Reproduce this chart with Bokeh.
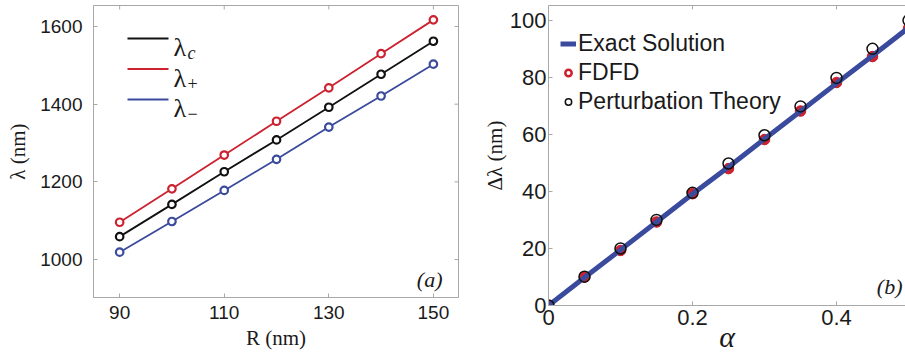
from jinja2 import Template
from bokeh.plotting import figure
from bokeh.models import Range1d, LinearAxis, FixedTicker, Label, Arrow, Legend, LegendItem
from bokeh.embed import file_html
from bokeh.resources import INLINE

# ---------------- data: panel (a) ----------------
R_nm = [90, 100, 110, 120, 130, 140, 150]
lam_c = [1059, 1142, 1226, 1308, 1392, 1477, 1562]
lam_plus = [1096, 1182, 1269, 1356, 1442, 1530, 1617]
lam_minus = [1019, 1098, 1178, 1258, 1341, 1421, 1503]
ticks_R = [90, 110, 130, 150]
ticks_lam = [1000, 1200, 1400, 1600]
subscripts_a = ["c", "+", "\u2212"]

# ---------------- data: panel (b) ----------------
alpha = [0.0, 0.05, 0.10, 0.15, 0.20, 0.25, 0.30, 0.35, 0.40, 0.45, 0.50]
dlam_exact = [0.0, 9.8, 19.5, 29.3, 39.1, 48.6, 58.4, 68.1, 77.9, 87.6, 97.4]
dlam_fdfd = [0.0, 10.0, 19.3, 29.3, 39.2, 48.0, 58.2, 68.2, 78.2, 87.3, 97.2]
dlam_pert = [0.0, 10.1, 20.0, 30.0, 39.5, 49.8, 59.7, 69.8, 79.8, 90.0, 100.0]
ticks_alpha = [0, 0.2, 0.4]
ticks_dlam = [0, 20, 40, 60, 80, 100]
legend_b = ["Exact Solution", "FDFD", "Perturbation Theory"]

GREY = "#a8a8a8"
TXT = "#1a1a1a"
RED = "#cc2230"
BLUE = "#3a4a9c"
BLACK = "#111111"
SANS = "Liberation Sans"
SERIF = "Liberation Serif"
TICK_PX = 4
H = 360


def style_axis(ax, ticks, size, standoff):
    ax.ticker = FixedTicker(ticks=ticks)
    ax.axis_line_color = GREY
    ax.major_tick_line_color = GREY
    ax.major_tick_in = TICK_PX
    ax.major_tick_out = 0
    ax.minor_tick_line_color = None
    ax.major_label_text_font = SANS
    ax.major_label_text_color = TXT
    ax.major_label_standoff = standoff
    ax.major_label_text_font_size = size
    ax.axis_label_text_font = SERIF
    ax.axis_label_text_font_style = "normal"
    ax.axis_label_text_color = TXT


# ================= panel (a) =================
xa0, xa1, ya0, ya1 = 85.0, 154.8, 902.3, 1654.0
FA = (93, 458, 5, 297)  # frame left, right, top, bottom (page px)
p1 = figure(width=470, height=H, x_range=Range1d(xa0, xa1), y_range=Range1d(ya0, ya1),
            output_backend="svg", toolbar_location=None,
            min_border_left=FA[0], min_border_right=470 - FA[1], min_border_top=FA[2],
            min_border_bottom=H - FA[3])
p1.grid.visible = False
p1.outline_line_color = GREY
p1.background_fill_color = "white"


def a_px(px, py):
    x = xa0 + (px - FA[0]) / (FA[1] - FA[0]) * (xa1 - xa0)
    y = ya1 - (py - FA[2]) / (FA[3] - FA[2]) * (ya1 - ya0)
    return x, y


style_axis(p1.xaxis[0], ticks_R, "19px", 8)
style_axis(p1.yaxis[0], ticks_lam, "19px", 11)
p1.xaxis[0].axis_label = "R (nm)"
p1.xaxis[0].axis_label_text_font_size = "21px"
p1.xaxis[0].axis_label_standoff = 4
p1.yaxis[0].axis_label = "\u03bb (nm)"
p1.yaxis[0].axis_label_text_font_size = "21px"
p1.yaxis[0].axis_label_standoff = 7

# mirrored inside ticks (top and right), built from the tick lists
dya = TICK_PX / (FA[3] - FA[2]) * (ya1 - ya0)
dxa = TICK_PX / (FA[1] - FA[0]) * (xa1 - xa0)
p1.segment(x0=ticks_R, y0=[ya1] * len(ticks_R), x1=ticks_R, y1=[ya1 - dya] * len(ticks_R),
           line_color=GREY, line_width=1)
p1.segment(x0=[xa1] * len(ticks_lam), y0=ticks_lam, x1=[xa1 - dxa] * len(ticks_lam), y1=ticks_lam,
           line_color=GREY, line_width=1)

for vals, col in ((lam_c, BLACK), (lam_plus, RED), (lam_minus, BLUE)):
    p1.line(R_nm, vals, line_color=col, line_width=1.8)
    p1.scatter(R_nm, vals, size=7.5, fill_color="white", line_color=col, line_width=2.2)

# legend of panel (a)
rows_px = [38, 68.5, 99]
for (rpy, col, sub) in zip(rows_px, (BLACK, RED, BLUE), subscripts_a):
    xs, ys = a_px(127, rpy)
    xe, _ = a_px(168, rpy)
    p1.add_layout(Arrow(x_start=xs, y_start=ys, x_end=xe, y_end=ys, start=None, end=None,
                        line_color=col, line_width=2))
    lx, ly = a_px(173, rpy + 9)
    p1.add_layout(Label(x=lx, y=ly, text="\u03bb", text_font=SERIF, text_font_size="26px",
                        text_baseline="alphabetic", text_align="left", text_color=TXT))
    sx, sy = a_px(187, rpy + 14)
    p1.add_layout(Label(x=sx, y=sy, text=sub, text_font=SERIF, text_font_size="18px",
                        text_font_style="italic" if sub == "c" else "normal",
                        text_baseline="alphabetic", text_align="left", text_color=TXT))

lax, lay = a_px(442, 279)
p1.add_layout(Label(x=lax, y=lay, text="(a)", text_font=SERIF, text_font_size="22px",
                    text_font_style="italic", text_baseline="alphabetic", text_align="right",
                    text_color=TXT))

# ================= panel (b) =================
xb0, xb1, yb0, yb1 = 0.0, 0.4958, 0.0, 105.2
FB = (548, 905, 5, 305)
p2 = figure(width=435, height=H, x_range=Range1d(xb0, xb1), y_range=Range1d(yb0, yb1),
            output_backend="svg", toolbar_location=None,
            min_border_left=FB[0] - 470, min_border_right=0, min_border_top=FB[2],
            min_border_bottom=H - FB[3])
p2.grid.visible = False
p2.outline_line_color = None


def b_px(px, py):
    x = xb0 + (px - FB[0]) / (FB[1] - FB[0]) * (xb1 - xb0)
    y = yb1 - (py - FB[2]) / (FB[3] - FB[2]) * (yb1 - yb0)
    return x, y


style_axis(p2.xaxis[0], ticks_alpha, "22px", 4)
style_axis(p2.yaxis[0], ticks_dlam, "22px", 2)
p2.xaxis[0].axis_label = "\u03b1"
p2.xaxis[0].axis_label_text_font_size = "30px"
p2.xaxis[0].axis_label_text_font_style = "italic"
p2.xaxis[0].axis_label_standoff = -8
p2.yaxis[0].axis_label = "\u0394\u03bb (nm)"
p2.yaxis[0].axis_label_text_font_size = "21px"
p2.yaxis[0].axis_label_standoff = 0

# top frame line (no ticks/labels) + mirrored top ticks
top2 = LinearAxis(ticker=FixedTicker(ticks=[]), axis_line_color=GREY,
                  major_tick_line_color=None, minor_tick_line_color=None)
p2.add_layout(top2, "above")
dyb = TICK_PX / (FB[3] - FB[2]) * (yb1 - yb0)
p2.segment(x0=ticks_alpha, y0=[yb1] * len(ticks_alpha), x1=ticks_alpha,
           y1=[yb1 - dyb] * len(ticks_alpha), line_color=GREY, line_width=1)

# FDFD ring (legend style) sits under the filled FDFD dots
r_fdfd_ring = p2.scatter(alpha, dlam_fdfd, size=8, fill_color="white", line_color=RED,
                         line_width=2.5)
r_fdfd = p2.scatter(alpha, dlam_fdfd, size=10.5, fill_color=RED, line_color=RED, line_width=1)
r_exact = p2.line(alpha, dlam_exact, line_color=BLUE, line_width=5)
r_pert = p2.scatter(alpha, dlam_pert, size=11, fill_color=None, line_color=BLACK, line_width=1.5)

legend = Legend(items=[LegendItem(label=legend_b[0], renderers=[r_exact]),
                       LegendItem(label=legend_b[1], renderers=[r_fdfd_ring]),
                       LegendItem(label=legend_b[2], renderers=[r_pert])],
                location=(12, 189), glyph_width=16, glyph_height=29, label_height=29,
                label_standoff=2, spacing=0, padding=0, margin=0,
                border_line_color=None, background_fill_alpha=0,
                label_text_font=SANS, label_text_font_size="23px", label_text_color=TXT)
p2.add_layout(legend)

lbx, lby = b_px(902, 286)
p2.add_layout(Label(x=lbx, y=lby, text="(b)", text_font=SERIF, text_font_size="22px",
                    text_font_style="italic", text_baseline="alphabetic", text_align="right",
                    text_color=TXT))

# two independent roots side by side (so that each panel keeps its own frame)
PAGE = Template("""<!DOCTYPE html>
<html lang="en">
  <head>
    <meta charset="utf-8">
    <title>{{ title if title else "Bokeh Plot" }}</title>
    <style>
      html, body { margin: 0; padding: 0; overflow: hidden; }
      .panels { display: flex; flex-direction: row; align-items: flex-start; }
      .panels > div > * { flex: none; }
    </style>
    {{ bokeh_css }}
    {{ bokeh_js }}
  </head>
  <body>
    <div class="panels">
      {{ plot_div }}
    </div>
    {{ plot_script }}
  </body>
</html>
""")

open("out.html", "w").write(file_html([p1, p2], INLINE, template=PAGE))
